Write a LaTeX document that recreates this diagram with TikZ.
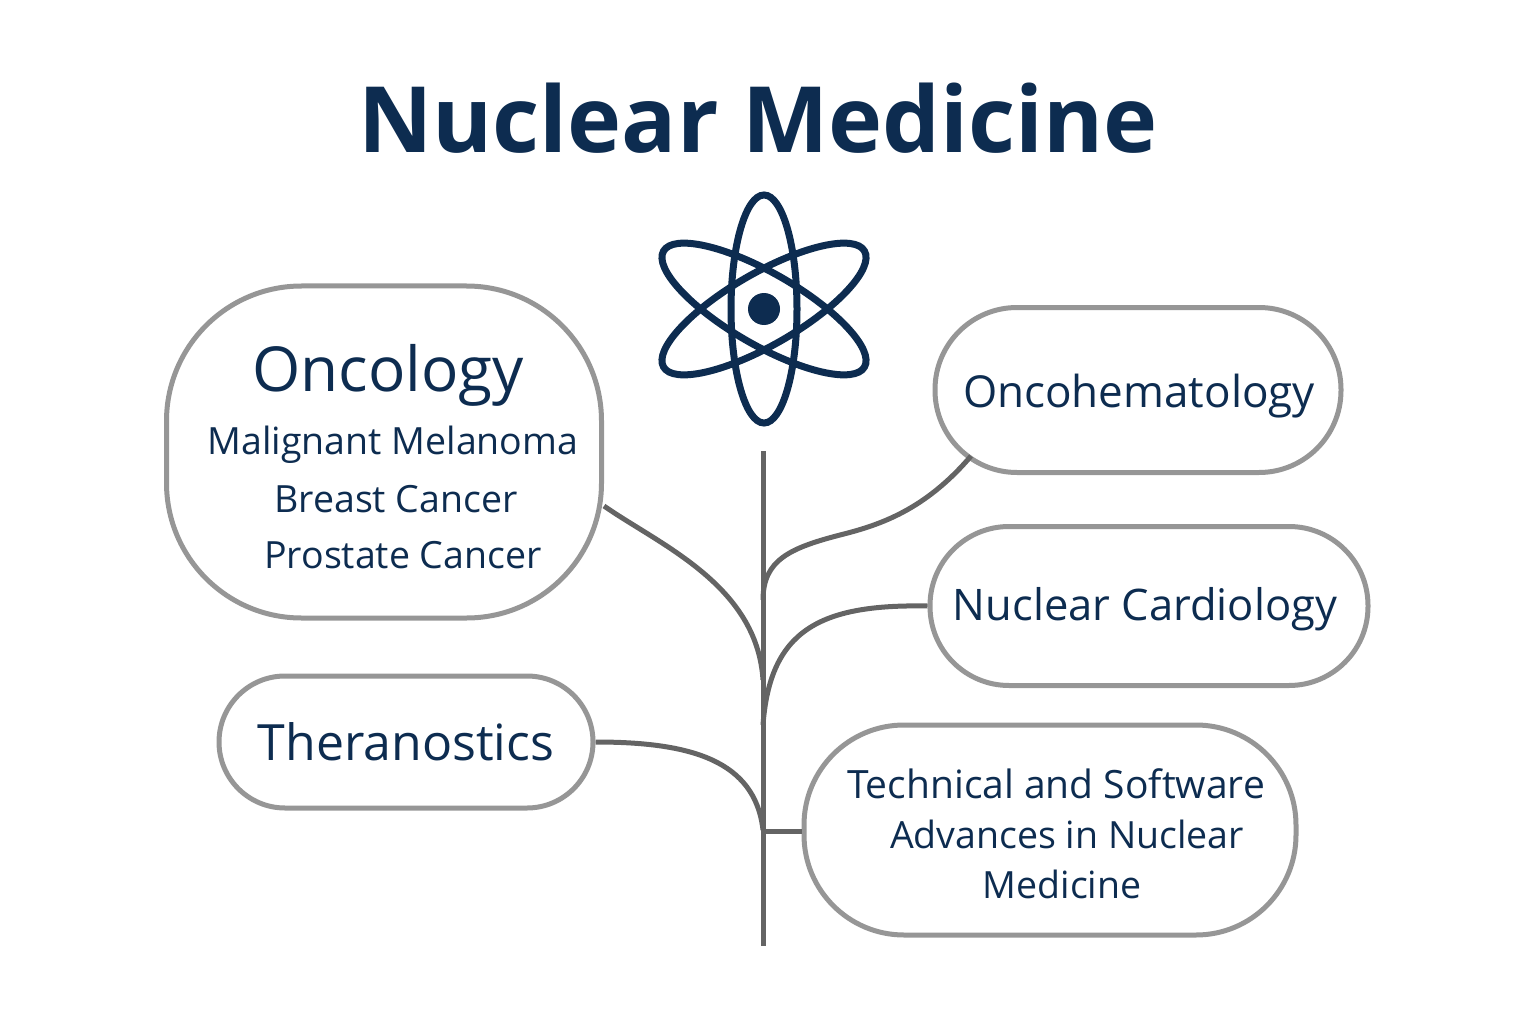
\documentclass[tikz,border=0pt]{standalone}
\usepackage{fontspec}
\setmainfont{Open Sans}
\usepackage{xcolor}
\usetikzlibrary{calc,positioning}
\definecolor{ink}{RGB}{13,44,80}
\definecolor{rulegray}{RGB}{150,150,150}
\definecolor{stemgray}{RGB}{100,100,100}
\tikzset{
  topic/.style={draw=rulegray,line width=5pt,fill=white,align=center,text=ink,inner sep=0pt},
  stem/.style={line width=5pt,draw=stemgray},
  orbit/.style={draw=ink,line width=7pt},
  caption/.style={text=ink,font=\fontsize{37.5}{38}\selectfont},
  bigcaption/.style={text=ink,font=\fontsize{44}{44}\selectfont}
}
\begin{document}
\begin{tikzpicture}[x=1pt,y=-1pt]
  \useasboundingbox (0,0) rectangle (1536,1024);
  \node[font=\fontsize{91.5}{92}\selectfont\bfseries,text=ink] (title) at (758,118) {Nuclear Medicine};
  % atom
  \coordinate (core) at (764,309);
  \draw[orbit] (core) ellipse [x radius=33,y radius=114];
  \draw[orbit,rotate around={60:(core)}] (core) ellipse [x radius=36,y radius=116];
  \draw[orbit,rotate around={-60:(core)}] (core) ellipse [x radius=36,y radius=116];
  \fill[ink] (core) circle (16);
  % boxes
  \node[topic,minimum width=435,minimum height=332,rounded corners=135] (onco) at (384,452) {};
  \node[font=\fontsize{62}{62}\selectfont,text=ink] (oncotitle) at (388,375) {Oncology};
  \node[caption] (melanoma) at (393,445) {Malignant Melanoma};
  \node[caption] (breast) at (396,499) {Breast Cancer};
  \node[caption] (prostate) at (403,555) {Prostate Cancer};
  \node[topic,minimum width=374,minimum height=132,rounded corners=66,font=\fontsize{50}{50}\selectfont] (thera) at (406,742) {Theranostics};
  \node[topic,minimum width=406,minimum height=165,rounded corners=82] (hemato) at (1138,390) {};
  \node[bigcaption] (hematotext) at (1139,396) {Oncohematology};
  \node[topic,minimum width=438,minimum height=159,rounded corners=79] (cardio) at (1149,606) {};
  \node[bigcaption,font=\fontsize{43.5}{44}\selectfont] (cardiotext) at (1145,609) {Nuclear Cardiology};
  \node[topic,minimum width=492,minimum height=210,rounded corners=100] (tech) at (1050,830) {};
  \node[caption,font=\fontsize{39}{39}\selectfont] (techa) at (1056,784) {Technical and Software};
  \node[caption] (techb) at (1067,834) {Advances in Nuclear};
  \node[caption] (techc) at (1062,884) {Medicine};
  % stem and branches
  \coordinate (stemtop) at (763,451);
  \coordinate (stembot) at (763,946);
  \draw[stem] (stemtop) -- (stembot);
  \draw[stem] (onco.east |- 0,506) .. controls (660,545) and (757,585) .. (763,680);
  \draw[stem] (971,456) .. controls (925,510) and (880,525) .. (840,535) .. controls (790,548) and (763,560) .. (763,600);
  \draw[stem] (cardio.west) .. controls (820,604) and (770,630) .. (763,725);
  \draw[stem] (thera.east) .. controls (690,742) and (755,760) .. (763,830);
  \draw[stem] (763,831) -- (tech.west |- 0,831);
\end{tikzpicture}
\end{document}
